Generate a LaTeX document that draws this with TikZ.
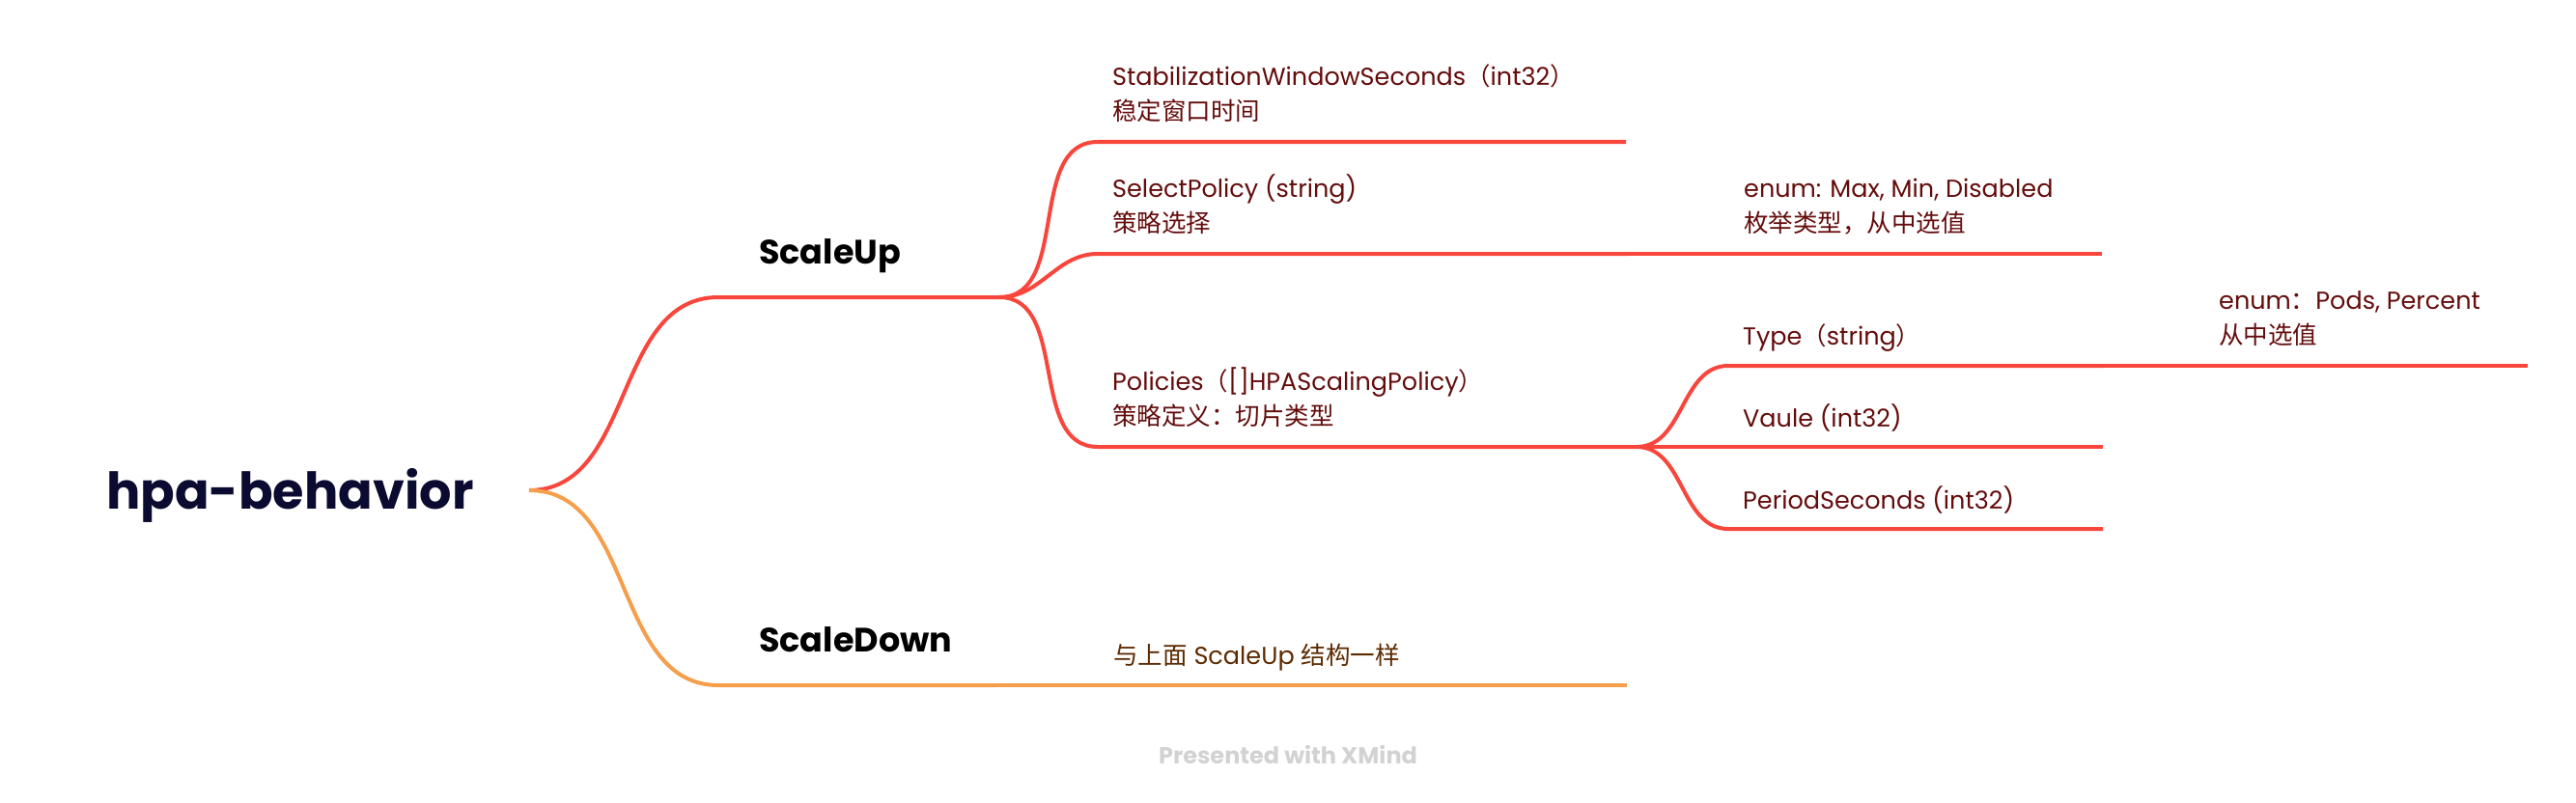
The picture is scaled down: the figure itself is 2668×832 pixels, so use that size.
\documentclass[tikz,border=0pt]{standalone}
\usepackage{fontspec}
\setmainfont{Poppins}
\newfontfamily\cjk{Noto Sans CJK SC}
\newcommand{\zh}[1]{{\cjk #1}}
\definecolor{lred}{HTML}{F9463C}
\definecolor{lorange}{HTML}{F59E4C}
\definecolor{tred}{HTML}{640C0C}
\definecolor{tbrown}{HTML}{5C2A00}
\definecolor{troot}{HTML}{0B0A30}
\definecolor{tgray}{HTML}{D2D2D2}
\begin{document}
\begin{tikzpicture}[x=1pt,y=-1pt,
  redl/.style={draw=lred,line width=4pt},
  orl/.style={draw=lorange,line width=4pt},
  conn/.style={out=0,in=180},
  roottext/.style={anchor=base west,inner sep=0,text=troot,font=\fontsize{52.5}{60}\selectfont\bfseries},
  maintext/.style={anchor=base west,inner sep=0,text=black,font=\fontsize{35}{40}\selectfont\bfseries},
  subtext/.style={anchor=base west,inner sep=0,text=tred,font=\fontsize{25.5}{36}\selectfont},
  subtwo/.style={anchor=south west,inner sep=0,align=left,text=tred,font=\fontsize{25.5}{36}\selectfont},
  wmark/.style={anchor=base,inner sep=0,text=tgray,font=\fontsize{24}{28}\selectfont\bfseries}]
\useasboundingbox (0,0) rectangle (2668,832);
% coordinates
\coordinate (root) at (548,508);
\coordinate (su-s) at (744,308); \coordinate (su-e) at (1035,308);
\coordinate (sd-s) at (744,710); \coordinate (sd-e) at (1032,710);
\coordinate (c1-s) at (1137,147); \coordinate (c1-e) at (1684,147);
\coordinate (c2-s) at (1137,263); \coordinate (c2-e) at (1685,263);
\coordinate (c2a-s) at (1789,263); \coordinate (c2a-e) at (2177,263);
\coordinate (c3-s) at (1137,463); \coordinate (c3-e) at (1695,463);
\coordinate (t-s) at (1790,379); \coordinate (t-e) at (2178,379);
\coordinate (te-s) at (2282,379); \coordinate (te-e) at (2618,379);
\coordinate (v-s) at (1790,463); \coordinate (v-e) at (2178,463);
\coordinate (p-s) at (1790,548); \coordinate (p-e) at (2178,548);
\coordinate (sdc-s) at (1137,710); \coordinate (sdc-e) at (1685,710);
% texts
\node[roottext] (hpa) at (110,527) {hpa-behavior};
\node[maintext] (su) at (786,273) {ScaleUp};
\node[maintext] (sd) at (786,675) {ScaleDown};
\node[subtwo] (c1) at (1152,127) {StabilizationWindowSeconds\zh{（}int32\zh{）}\\\zh{稳定窗口时间}};
\node[subtwo] (c2) at (1152,243) {SelectPolicy (string)\\\zh{策略选择}};
\node[subtwo] (c2a) at (1806,243) {enum: Max, Min, Disabled\\\zh{枚举类型，从中选值}};
\node[subtwo] (c3) at (1152,443) {Policies\zh{（}[]HPAScalingPolicy\zh{）}\\\zh{策略定义：切片类型}};
\node[subtext] (t) at (1805,357) {Type\zh{（}string\zh{）}};
\node[subtwo] (te) at (2298,359) {enum\zh{：}Pods, Percent\\\zh{从中选值}};
\node[subtext] (v) at (1805,442) {Vaule (int32)};
\node[subtext] (p) at (1805,527) {PeriodSeconds (int32)};
\node[subtext,text=tbrown] (sdc) at (1153,688) {\zh{与上面} ScaleUp \zh{结构一样}};
\node[wmark] (wm) at (1334,791) {Presented with XMind};
% connectors
\draw[redl] (root) to[conn] (su-s) -- (su-e);
\draw[orl] (root) to[conn] (sd-s) -- (sd-e);
\draw[orl] (sd-e) -- (sdc-s) -- (sdc-e);
\draw[redl] (su-e) to[conn] (c1-s) -- (c1-e);
\draw[redl] (su-e) to[conn] (c2-s) -- (c2-e);
\draw[redl] (su-e) to[conn] (c3-s) -- (c3-e);
\draw[redl] (c2-e) -- (c2a-s) -- (c2a-e);
\draw[redl] (c3-e) to[conn] (t-s) -- (t-e);
\draw[redl] (c3-e) -- (v-s) -- (v-e);
\draw[redl] (c3-e) to[conn] (p-s) -- (p-e);
\draw[redl] (t-e) -- (te-s) -- (te-e);
\end{tikzpicture}
\end{document}
